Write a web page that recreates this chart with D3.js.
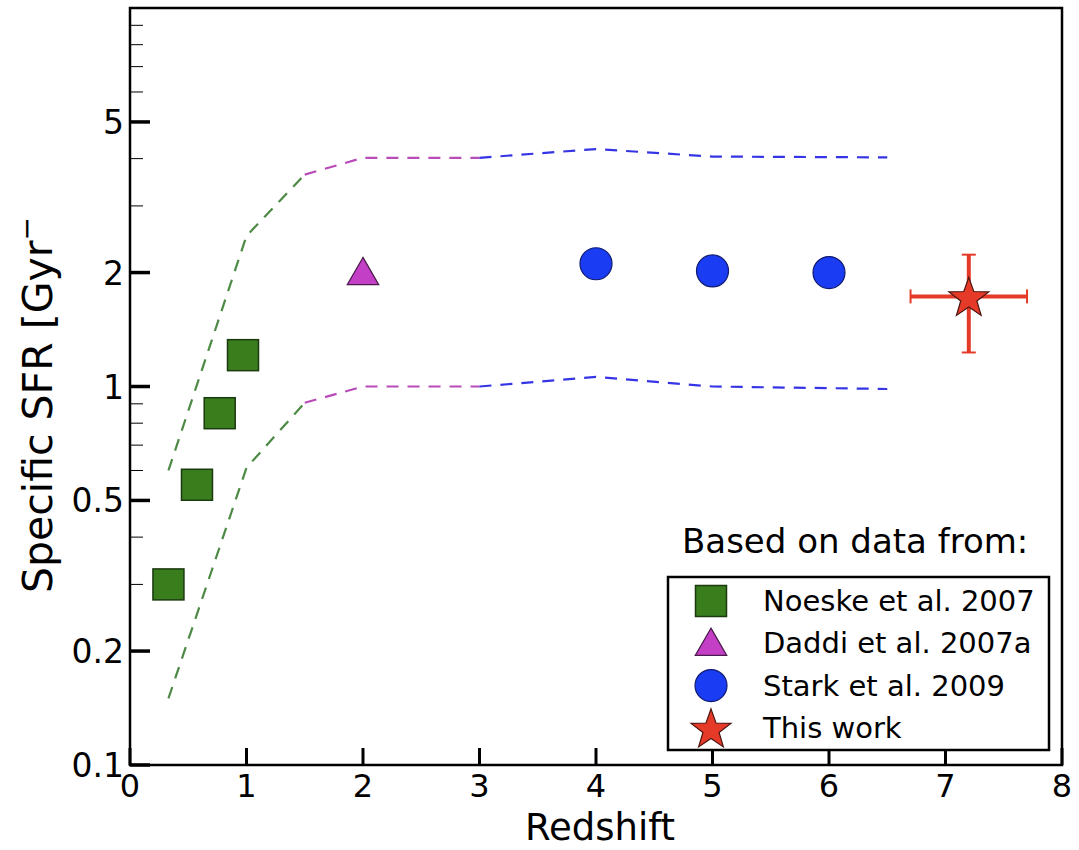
<!DOCTYPE html>
<html>
<head>
<meta charset="utf-8">
<script src="https://cdn.jsdelivr.net/npm/d3@7"></script>
<style>
  body { margin: 0; background: #fff; }
  svg { display: block; font-family: "DejaVu Sans", sans-serif; }
</style>
</head>
<body>
<svg id="chart" width="1079" height="850"></svg>
<script>
// ---- data ----
const noeskeZ = [0.33, 0.575, 0.77, 0.97];
const noeskeSSFR = [0.30, 0.55, 0.85, 1.21];
const daddiZ = [2.0];
const daddiSSFR = [2.0];
const starkZ = [4.0, 5.0, 6.0];
const starkSSFR = [2.11, 2.02, 2.0];
const thisZ = [7.2];
const thisSSFR = [1.73];
const thisZerr = [0.5];
const thisSSFRlo = [1.23];
const thisSSFRhi = [2.23];

// dashed envelopes (segment colours)
const upperGreen = [[0.33, 0.60], [1.0, 2.5], [1.5, 3.63]];
const upperMagenta = [[1.5, 3.63], [2.0, 4.02], [3.0, 4.02]];
const upperBlue = [[3.0, 4.02], [4.0, 4.24], [5.0, 4.05], [6.5, 4.03]];
const lowerGreen = [[0.33, 0.15], [1.0, 0.61], [1.5, 0.906]];
const lowerMagenta = [[1.5, 0.906], [2.0, 1.0], [3.0, 1.0]];
const lowerBlue = [[3.0, 1.0], [4.0, 1.06], [5.0, 1.0], [6.5, 0.985]];

const xTicks = [0, 1, 2, 3, 4, 5, 6, 7, 8];
const yMajorTicks = [0.1, 0.2, 0.5, 1, 2, 5];
const yMinorTicks = [0.3, 0.4, 0.6, 0.7, 0.8, 0.9, 3, 4, 6, 7, 8, 9];

const legendLabels = ["Noeske et al. 2007", "Daddi et al. 2007a", "Stark et al. 2009", "This work"];

// ---- layout ----
const svg = d3.select("#chart");
const L = 130, R = 1062, T = 8, B = 765;
const x = d3.scaleLinear().domain([0, 8]).range([L, R]);
const y = d3.scaleLog().domain([0.1, 10]).range([B, T]);

const cGreenLine = "#4d8a45", cMagLine = "#b94bb9", cBlueLine = "#3535e6";
const cSquare = "#3a7d1c", cTri = "#c23fc6", cCircle = "#1a3cf2", cStar = "#e53a28";

// dashed lines
const line = d3.line().x(d => x(d[0])).y(d => y(d[1]));
[[upperGreen, cGreenLine], [upperMagenta, cMagLine], [upperBlue, cBlueLine],
 [lowerGreen, cGreenLine], [lowerMagenta, cMagLine], [lowerBlue, cBlueLine]].forEach(([d, c]) => {
  svg.append("path").attr("d", line(d)).attr("fill", "none")
    .attr("stroke", c).attr("stroke-width", 2.2).attr("stroke-dasharray", "12,9");
});

// markers
const sq = 31;
svg.selectAll("rect.noeske").data(noeskeZ).enter().append("rect")
  .attr("x", (d) => x(d) - sq / 2).attr("y", (d, i) => y(noeskeSSFR[i]) - sq / 2)
  .attr("width", sq).attr("height", sq)
  .attr("fill", cSquare).attr("stroke", "#1b3a10").attr("stroke-width", 1.5);

const triSym = d3.symbol().type(d3.symbolTriangle).size(430);
svg.selectAll("path.daddi").data(daddiZ).enter().append("path")
  .attr("d", triSym)
  .attr("transform", (d, i) => `translate(${x(d)},${y(daddiSSFR[i]) + 3})`)
  .attr("fill", cTri).attr("stroke", "#4a1a4a").attr("stroke-width", 1.2);

svg.selectAll("circle.stark").data(starkZ).enter().append("circle")
  .attr("cx", d => x(d)).attr("cy", (d, i) => y(starkSSFR[i])).attr("r", 16)
  .attr("fill", cCircle).attr("stroke", "#101a70").attr("stroke-width", 1.2);

// error bars for this work
thisZ.forEach((z, i) => {
  const cx = x(z), cy = y(thisSSFR[i]);
  const x0 = x(z - thisZerr[i]), x1 = x(z + thisZerr[i]);
  const y0 = y(thisSSFRlo[i]), y1 = y(thisSSFRhi[i]);
  const g = svg.append("g").attr("stroke", cStar).attr("stroke-width", 4);
  g.append("line").attr("x1", x0).attr("x2", x1).attr("y1", cy).attr("y2", cy);
  g.append("line").attr("x1", cx).attr("x2", cx).attr("y1", y0).attr("y2", y1);
  g.append("line").attr("x1", x0).attr("x2", x0).attr("y1", cy - 7).attr("y2", cy + 7).attr("stroke-width", 2);
  g.append("line").attr("x1", x1).attr("x2", x1).attr("y1", cy - 7).attr("y2", cy + 7).attr("stroke-width", 2);
  g.append("line").attr("x1", cx - 7).attr("x2", cx + 7).attr("y1", y0).attr("y2", y0).attr("stroke-width", 2);
  g.append("line").attr("x1", cx - 7).attr("x2", cx + 7).attr("y1", y1).attr("y2", y1).attr("stroke-width", 2);
});
function starPath(r1, r2) {
  const pts = [];
  for (let k = 0; k < 10; k++) {
    const a = -Math.PI / 2 + k * Math.PI / 5;
    const r = k % 2 === 0 ? r1 : r2;
    pts.push([r * Math.cos(a), r * Math.sin(a)]);
  }
  return "M" + pts.map(p => p.join(",")).join("L") + "Z";
}
svg.selectAll("path.this").data(thisZ).enter().append("path")
  .attr("d", starPath(21, 8.5))
  .attr("transform", (d, i) => `translate(${x(d)},${y(thisSSFR[i]) + 2})`)
  .attr("fill", cStar).attr("stroke", "#4a1410").attr("stroke-width", 1.2);

// ticks (inward)
const tg = svg.append("g");
tg.selectAll("line.xt").data(xTicks).enter().append("line")
  .attr("x1", d => x(d)).attr("x2", d => x(d)).attr("y1", B).attr("y2", B - 17)
  .attr("stroke", "#000").attr("stroke-width", 3);
tg.selectAll("line.ymaj").data(yMajorTicks).enter().append("line")
  .attr("x1", L).attr("x2", L + 20).attr("y1", d => y(d)).attr("y2", d => y(d))
  .attr("stroke", "#000").attr("stroke-width", 3.5);
tg.selectAll("line.ymin").data(yMinorTicks).enter().append("line")
  .attr("x1", L).attr("x2", L + 13).attr("y1", d => y(d)).attr("y2", d => y(d))
  .attr("stroke", "#000").attr("stroke-width", 1);

// frame
svg.append("rect").attr("x", L).attr("y", T).attr("width", R - L).attr("height", B - T)
  .attr("fill", "none").attr("stroke", "#000").attr("stroke-width", 2.5);

// tick labels
svg.selectAll("text.xl").data(xTicks).enter().append("text")
  .attr("x", d => x(d)).attr("y", B + 32).attr("text-anchor", "middle")
  .attr("font-size", 32).text(d => d);
svg.selectAll("text.yl").data(yMajorTicks).enter().append("text")
  .attr("x", L - 6).attr("y", d => y(d) + 12).attr("text-anchor", "end")
  .attr("font-size", 33).text(d => String(d));

// axis titles
svg.append("text").attr("x", (L + R) / 2 + 4).attr("y", 840).attr("text-anchor", "middle")
  .attr("font-size", 37).text("Redshift");
const yt = svg.append("text").attr("transform", `translate(52,405) rotate(-90)`)
  .attr("text-anchor", "middle").attr("font-size", 41);
yt.append("tspan").text("Specific SFR [Gyr");
yt.append("tspan").attr("dy", -16).attr("font-size", 28).text("\u2212");

// legend
svg.append("text").attr("x", 682).attr("y", 553).attr("font-size", 34).text("Based on data from:");
svg.append("rect").attr("x", 668).attr("y", 577).attr("width", 381).attr("height", 173)
  .attr("fill", "#fff").attr("stroke", "#000").attr("stroke-width", 2.5);
const lx = 711, ly0 = 601, ldy = 42.3;
legendLabels.forEach((t, i) => {
  svg.append("text").attr("x", 763).attr("y", ly0 + i * ldy + 10).attr("font-size", 29).text(t);
});
svg.append("rect").attr("x", lx - sq / 2).attr("y", ly0 - sq / 2).attr("width", sq).attr("height", sq)
  .attr("fill", cSquare).attr("stroke", "#1b3a10").attr("stroke-width", 1.5);
svg.append("path").attr("d", triSym).attr("transform", `translate(${lx},${ly0 + ldy + 3})`)
  .attr("fill", cTri).attr("stroke", "#4a1a4a").attr("stroke-width", 1.2);
svg.append("circle").attr("cx", lx).attr("cy", ly0 + 2 * ldy).attr("r", 16)
  .attr("fill", cCircle).attr("stroke", "#101a70").attr("stroke-width", 1.2);
svg.append("path").attr("d", starPath(21, 8.5)).attr("transform", `translate(${lx},${ly0 + 3 * ldy + 2})`)
  .attr("fill", cStar).attr("stroke", "#4a1410").attr("stroke-width", 1.2);
</script>
</body>
</html>
